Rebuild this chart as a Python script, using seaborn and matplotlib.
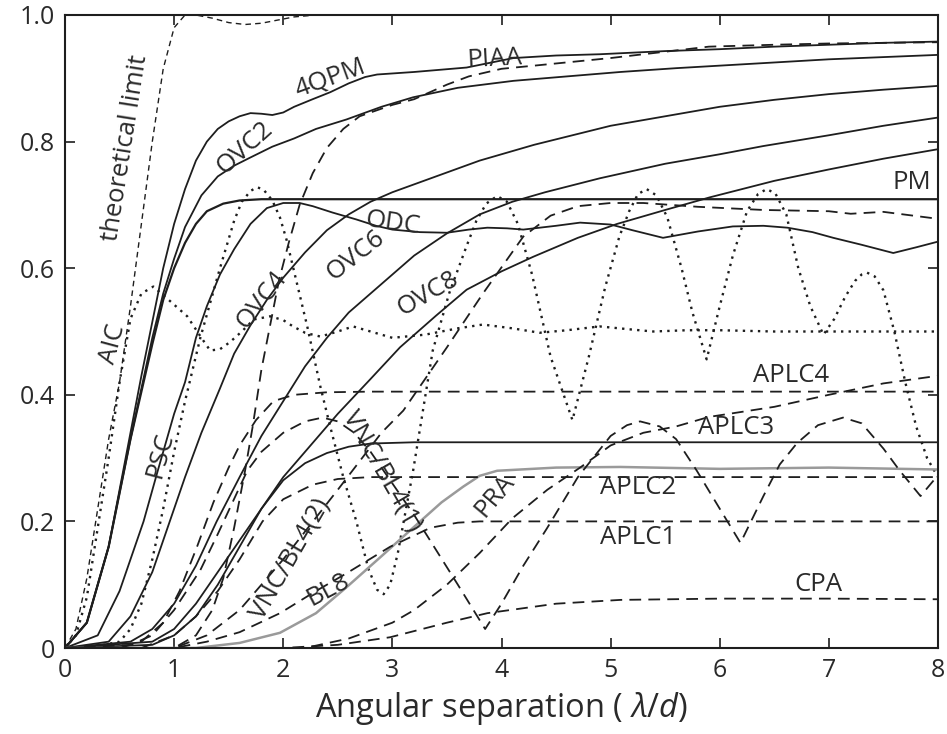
import matplotlib
matplotlib.use("Agg")
import matplotlib.pyplot as plt
import seaborn as sns

# ---------------- data ----------------
theory_x = [0, 0.1, 0.2, 0.3, 0.4, 0.5, 0.6, 0.7, 0.8, 0.9, 1.0, 1.1, 1.2, 1.35, 1.5, 1.65, 1.8, 1.95, 2.1, 2.3, 3.0, 4.0, 5.0, 6.0, 7.0, 8.0]
theory_y = [0, 0.03, 0.11, 0.22, 0.33, 0.42, 0.54, 0.67, 0.80, 0.915, 0.98, 1.0, 1.0, 0.995, 0.988, 0.985, 0.987, 0.992, 0.997, 1.0, 1.0, 1.0, 1.0, 1.0, 1.0, 1.0]

aic_x = [0, 0.1, 0.2, 0.3, 0.4, 0.5, 0.6, 0.7, 0.81, 0.95, 1.12, 1.25, 1.33, 1.42, 1.51, 1.62, 1.73, 1.88, 2.0, 2.09, 2.2, 2.34, 2.5, 2.64, 2.8, 3.0, 3.3, 3.6, 3.83, 4.1, 4.35, 4.6, 4.9, 5.2, 5.39, 5.7, 6.0, 6.5, 7.0, 7.5, 8.0]
aic_y = [0, 0.02, 0.08, 0.19, 0.30, 0.42, 0.52, 0.56, 0.571, 0.55, 0.524, 0.49, 0.47, 0.472, 0.483, 0.5, 0.519, 0.524, 0.518, 0.508, 0.498, 0.492, 0.5, 0.508, 0.5, 0.49, 0.495, 0.505, 0.511, 0.505, 0.498, 0.502, 0.508, 0.503, 0.5, 0.502, 0.502, 0.5, 0.5, 0.5, 0.5]

psc_x = [0, 0.3, 0.5, 0.6, 0.7, 0.8, 0.9, 1.0, 1.1, 1.24, 1.42, 1.55, 1.62, 1.7, 1.76, 1.82, 1.9, 1.97, 2.03, 2.12, 2.22, 2.34, 2.43, 2.55, 2.67, 2.78, 2.86, 2.92, 2.98, 3.05, 3.19, 3.37, 3.52, 3.68, 3.77, 3.86, 3.96, 4.05, 4.15, 4.28, 4.45, 4.65, 4.8, 4.95, 5.08, 5.17, 5.25, 5.33, 5.42, 5.52, 5.65, 5.75, 5.88, 6.0, 6.12, 6.25, 6.35, 6.43, 6.51, 6.61, 6.72, 6.83, 6.95, 7.05, 7.15, 7.24, 7.3, 7.35, 7.42, 7.5, 7.6, 7.7, 7.8, 7.9, 8.0]
psc_y = [0, 0.003, 0.01, 0.03, 0.07, 0.14, 0.22, 0.31, 0.39, 0.49, 0.60, 0.675, 0.705, 0.722, 0.728, 0.724, 0.707, 0.68, 0.645, 0.58, 0.508, 0.413, 0.35, 0.27, 0.2, 0.125, 0.092, 0.085, 0.1, 0.15, 0.28, 0.47, 0.56, 0.635, 0.675, 0.702, 0.714, 0.705, 0.67, 0.59, 0.46, 0.36, 0.46, 0.57, 0.65, 0.69, 0.717, 0.725, 0.715, 0.68, 0.6, 0.53, 0.456, 0.54, 0.62, 0.69, 0.717, 0.725, 0.718, 0.685, 0.6, 0.54, 0.495, 0.52, 0.555, 0.58, 0.59, 0.593, 0.587, 0.565, 0.5, 0.42, 0.35, 0.3, 0.27]

qpm_x = [0, 0.2, 0.4, 0.6, 0.7, 0.8, 0.9, 1.0, 1.1, 1.2, 1.3, 1.4, 1.5, 1.6, 1.7, 1.8, 1.9, 2.0, 2.1, 2.27, 2.43, 2.6, 2.75, 2.86, 3.2, 3.68, 4.11, 4.5, 4.9, 5.5, 6.0, 6.5, 7.0, 7.5, 8.0]
qpm_y = [0, 0.04, 0.16, 0.34, 0.43, 0.515, 0.60, 0.67, 0.725, 0.77, 0.80, 0.82, 0.832, 0.84, 0.845, 0.844, 0.842, 0.846, 0.855, 0.867, 0.878, 0.892, 0.902, 0.906, 0.91, 0.917, 0.932, 0.936, 0.938, 0.943, 0.946, 0.95, 0.953, 0.956, 0.958]

ovc2_x = [0, 0.2, 0.4, 0.6, 0.7, 0.8, 0.9, 1.0, 1.1, 1.25, 1.4, 1.55, 1.7, 1.9, 2.1, 2.3, 2.58, 2.9, 3.19, 3.6, 4.11, 4.6, 5.09, 5.6, 6.0, 7.0, 8.0]
ovc2_y = [0, 0.04, 0.16, 0.33, 0.41, 0.49, 0.56, 0.615, 0.665, 0.715, 0.745, 0.762, 0.775, 0.792, 0.805, 0.82, 0.835, 0.855, 0.87, 0.885, 0.896, 0.903, 0.91, 0.916, 0.92, 0.93, 0.937]

pm_x = [0, 0.2, 0.4, 0.6, 0.7, 0.8, 0.9, 1.0, 1.1, 1.2, 1.3, 1.45, 1.6, 1.8, 8.0]
pm_y = [0, 0.04, 0.16, 0.33, 0.405, 0.48, 0.55, 0.60, 0.64, 0.67, 0.69, 0.702, 0.707, 0.709, 0.709]

odc_x = [0, 0.3, 0.5, 0.6, 0.72, 0.85, 1.0, 1.1, 1.2, 1.3, 1.42, 1.55, 1.7, 1.85, 2.0, 2.15, 2.27, 2.45, 2.67, 2.85, 3.0, 3.25, 3.5, 3.7, 3.87, 4.05, 4.2, 4.5, 4.72, 5.0, 5.2, 5.48, 5.8, 6.12, 6.4, 6.62, 6.85, 7.04, 7.3, 7.59, 7.8, 8.0]
odc_y = [0, 0.02, 0.09, 0.14, 0.2, 0.28, 0.37, 0.42, 0.49, 0.54, 0.59, 0.63, 0.67, 0.695, 0.703, 0.703, 0.698, 0.688, 0.677, 0.667, 0.661, 0.657, 0.656, 0.661, 0.664, 0.663, 0.661, 0.667, 0.672, 0.669, 0.66, 0.648, 0.658, 0.666, 0.667, 0.664, 0.657, 0.648, 0.637, 0.624, 0.633, 0.642]

ovc4_x = [0, 0.4, 0.6, 0.8, 0.96, 1.1, 1.25, 1.42, 1.55, 1.7, 1.85, 2.0, 2.2, 2.4, 2.6, 2.8, 3.0, 3.4, 3.8, 4.3, 5.0, 5.5, 6.0, 6.5, 7.0, 7.5, 8.0]
ovc4_y = [0, 0.01, 0.05, 0.12, 0.2, 0.27, 0.34, 0.41, 0.465, 0.51, 0.55, 0.585, 0.625, 0.66, 0.685, 0.705, 0.72, 0.745, 0.77, 0.795, 0.825, 0.84, 0.855, 0.866, 0.875, 0.882, 0.888]

ovc6_x = [0, 0.6, 0.8, 1.0, 1.2, 1.39, 1.6, 1.8, 2.0, 2.2, 2.4, 2.6, 2.8, 3.0, 3.2, 3.5, 3.8, 4.1, 4.4, 4.9, 5.5, 6.0, 6.4, 7.0, 7.5, 8.0]
ovc6_y = [0, 0.01, 0.03, 0.07, 0.13, 0.2, 0.27, 0.335, 0.39, 0.445, 0.49, 0.53, 0.56, 0.59, 0.62, 0.655, 0.685, 0.705, 0.72, 0.742, 0.765, 0.78, 0.793, 0.81, 0.825, 0.838]

ovc8_x = [0, 0.8, 1.0, 1.2, 1.4, 1.6, 1.8, 2.0, 2.2, 2.5, 2.8, 3.07, 3.4, 3.68, 4.0, 4.29, 4.7, 5.06, 5.5, 5.91, 6.5, 7.0, 7.5, 8.0]
ovc8_y = [0, 0.01, 0.03, 0.07, 0.12, 0.17, 0.22, 0.27, 0.31, 0.37, 0.425, 0.475, 0.525, 0.566, 0.595, 0.618, 0.648, 0.67, 0.692, 0.712, 0.738, 0.756, 0.773, 0.788]

aplc3_x = [0, 0.8, 1.0, 1.2, 1.4, 1.6, 1.8, 2.0, 2.2, 2.4, 2.6, 2.8, 3.2, 8.0]
aplc3_y = [0, 0.005, 0.02, 0.05, 0.10, 0.16, 0.22, 0.265, 0.292, 0.308, 0.318, 0.323, 0.325, 0.325]

bl8_x = [0, 1.2, 1.6, 1.97, 2.3, 2.58, 2.9, 3.19, 3.45, 3.65, 3.8, 3.96, 4.5, 5.09, 6.0, 7.0, 8.0]
bl8_y = [0, 0.0, 0.008, 0.024, 0.055, 0.096, 0.145, 0.19, 0.23, 0.255, 0.272, 0.28, 0.285, 0.286, 0.283, 0.285, 0.282]

piaa_x = [0, 1.0, 1.2, 1.35, 1.45, 1.55, 1.65, 1.72, 1.8, 1.88, 1.96, 2.05, 2.15, 2.27, 2.4, 2.55, 2.7, 3.0, 3.2, 3.5, 3.7, 4.0, 4.3, 5.0, 5.5, 5.9, 6.5, 7.0, 8.0]
piaa_y = [0, 0.0, 0.02, 0.06, 0.11, 0.19, 0.28, 0.35, 0.44, 0.51, 0.58, 0.64, 0.70, 0.75, 0.79, 0.82, 0.84, 0.858, 0.867, 0.89, 0.903, 0.915, 0.92, 0.932, 0.942, 0.95, 0.953, 0.955, 0.957]

aplc4_x = [0, 0.5, 0.7, 0.9, 1.05, 1.21, 1.36, 1.5, 1.6, 1.75, 1.91, 2.1, 2.4, 2.8, 8.0]
aplc4_y = [0, 0.0, 0.01, 0.04, 0.09, 0.16, 0.23, 0.285, 0.32, 0.36, 0.39, 0.40, 0.404, 0.405, 0.405]

aplc2_x = [0, 0.7, 1.0, 1.2, 1.4, 1.6, 1.81, 2.0, 2.27, 2.5, 2.8, 8.0]
aplc2_y = [0, 0.0, 0.02, 0.05, 0.09, 0.14, 0.2, 0.235, 0.258, 0.267, 0.27, 0.27]

aplc1_x = [0, 1.0, 1.3, 1.6, 1.97, 2.3, 2.58, 2.98, 3.35, 3.6, 3.8, 8.0]
aplc1_y = [0, 0.0, 0.01, 0.025, 0.055, 0.09, 0.118, 0.16, 0.19, 0.198, 0.2, 0.2]

vnc1_x = [0, 0.6, 0.8, 1.0, 1.24, 1.4, 1.67, 1.8, 2.0, 2.2, 2.36, 2.5, 2.65, 2.8, 3.0, 3.2, 3.4, 3.6, 3.85, 4.0, 4.2, 4.42, 4.7, 5.0, 5.15, 5.27, 5.45, 5.6, 5.79, 6.0, 6.19, 6.4, 6.55, 6.71, 6.9, 7.13, 7.3, 7.5, 7.65, 7.84, 8.0]
vnc1_y = [0, 0.005, 0.02, 0.06, 0.123, 0.18, 0.28, 0.31, 0.34, 0.358, 0.364, 0.358, 0.34, 0.31, 0.26, 0.21, 0.155, 0.1, 0.03, 0.07, 0.13, 0.19, 0.27, 0.335, 0.352, 0.358, 0.35, 0.33, 0.28, 0.22, 0.166, 0.24, 0.29, 0.324, 0.352, 0.364, 0.355, 0.315, 0.28, 0.24, 0.273]

vnc2_x = [0, 1.0, 1.3, 1.6, 2.0, 2.5, 2.9, 3.1, 3.5, 3.83, 4.2, 4.45, 4.7, 5.0, 5.3, 5.8, 6.4, 7.0, 7.2, 7.5, 8.0]
vnc2_y = [0, 0.0, 0.02, 0.06, 0.14, 0.25, 0.34, 0.375, 0.475, 0.56, 0.65, 0.683, 0.698, 0.703, 0.703, 0.697, 0.692, 0.69, 0.686, 0.689, 0.678]

pra_x = [0, 2.2, 2.6, 3.0, 3.2, 3.5, 3.8, 4.1, 4.42, 4.72, 5.0, 5.3, 5.6, 5.9, 6.2, 6.5, 7.0, 7.5, 8.0]
pra_y = [0, 0.0, 0.015, 0.04, 0.06, 0.1, 0.15, 0.205, 0.25, 0.285, 0.32, 0.34, 0.35, 0.365, 0.373, 0.381, 0.40, 0.418, 0.43]

cpa_x = [0, 2.0, 2.5, 2.98, 3.5, 3.87, 4.5, 5.09, 6.0, 7.0, 8.0]
cpa_y = [0, 0.0, 0.005, 0.017, 0.04, 0.055, 0.07, 0.076, 0.078, 0.078, 0.077]

x_ticks = [0, 1, 2, 3, 4, 5, 6, 7, 8]
y_ticks = [0, 0.2, 0.4, 0.6, 0.8, 1.0]
y_tick_labels = ["0", "0.2", "0.4", "0.6", "0.8", "1.0"]

label_texts = ["theoretical limit", "AIC", "PSC", "4QPM", "OVC2", "PIAA", "PM", "ODC",
               "OVC4", "OVC6", "OVC8", "APLC4", "APLC3", "APLC2", "APLC1", "CPA",
               "VNC/BL4(2)", "VNC/BL4(1)", "PRA", "BL8"]
label_x = [0.55, 0.44, 0.87, 2.43, 1.65, 3.94, 7.76, 3.0, 1.8, 2.66, 3.33, 6.65, 6.15, 5.25, 5.25, 6.9, 2.06, 2.91, 3.94, 2.41]
label_y = [0.79, 0.48, 0.305, 0.90, 0.79, 0.93, 0.736, 0.67, 0.55, 0.62, 0.56, 0.43, 0.348, 0.253, 0.174, 0.10, 0.14, 0.28, 0.24, 0.092]
label_rot = [81, 75, 75, 20, 42, 3, 0, -8, 52, 38, 30, 0, 0, 0, 0, 0, 60, -60, 50, 28]

# ---------------- styling ----------------
sns.set_theme(style="ticks")
plt.rcParams['font.family'] = ['Open Sans', 'DejaVu Sans']
plt.rcParams['mathtext.fontset'] = 'custom'
plt.rcParams['mathtext.it'] = 'Open Sans:italic'
plt.rcParams['mathtext.rm'] = 'Open Sans'

INK = "#1e1e1e"
TXT = "#2a2a2a"
SOLID = "-"
DASH = (0, (6.5, 4.0))
SHORTDASH = (0, (4.0, 3.0))
DOT = (0, (1.0, 2.2))

fig = plt.figure(figsize=(9.47, 7.34), dpi=100)
ax = fig.add_axes([65 / 947, 86 / 734, (938 - 65) / 947, 633 / 734])

def draw(x, y, ls, lw=1.3, color=INK):
    sns.lineplot(x=x, y=y, ax=ax, sort=False, estimator=None, color=color,
                 linestyle=ls, linewidth=lw)
    ax.lines[-1].set_solid_joinstyle("round")

draw(theory_x, theory_y, SHORTDASH, lw=1.0)
draw(aic_x, aic_y, DOT, lw=1.7)
draw(psc_x, psc_y, DOT, lw=1.7)
draw(qpm_x, qpm_y, SOLID)
draw(ovc2_x, ovc2_y, SOLID)
draw(pm_x, pm_y, SOLID, lw=1.6)
draw(odc_x, odc_y, SOLID)
draw(ovc4_x, ovc4_y, SOLID)
draw(ovc6_x, ovc6_y, SOLID)
draw(ovc8_x, ovc8_y, SOLID)
draw(aplc3_x, aplc3_y, SOLID)
draw(bl8_x, bl8_y, SOLID, lw=1.8, color="#9a9a9a")
draw(piaa_x, piaa_y, DASH)
draw(aplc4_x, aplc4_y, DASH)
draw(aplc2_x, aplc2_y, DASH)
draw(aplc1_x, aplc1_y, DASH)
draw(vnc1_x, vnc1_y, DASH)
draw(vnc2_x, vnc2_y, DASH)
draw(pra_x, pra_y, DASH)
draw(cpa_x, cpa_y, DASH)

for t, lx, ly, r in zip(label_texts, label_x, label_y, label_rot):
    ax.text(lx, ly, t, rotation=r, ha="center", va="center", fontsize=18.5,
            color=TXT, rotation_mode="anchor")

ax.set_xlim(0, 8)
ax.set_ylim(0, 1)
ax.set_xticks(x_ticks)
ax.set_xticklabels([str(v) for v in x_ticks])
ax.set_yticks(y_ticks)
ax.set_yticklabels(y_tick_labels)
ax.tick_params(direction="in", length=7, width=1.2, top=True, right=True,
               labelsize=18, colors=INK, labelcolor=TXT, pad=7)
for s in ax.spines.values():
    s.set_linewidth(1.5)
    s.set_color(INK)
    s.set_visible(True)
ax.set_xlabel("Angular separation ( $\\lambda/d$)", fontsize=23.5, color=TXT, labelpad=5)
ax.set_ylabel("")
ax.set_facecolor("white")
fig.patch.set_facecolor("white")

fig.savefig("out.png", dpi=100)
